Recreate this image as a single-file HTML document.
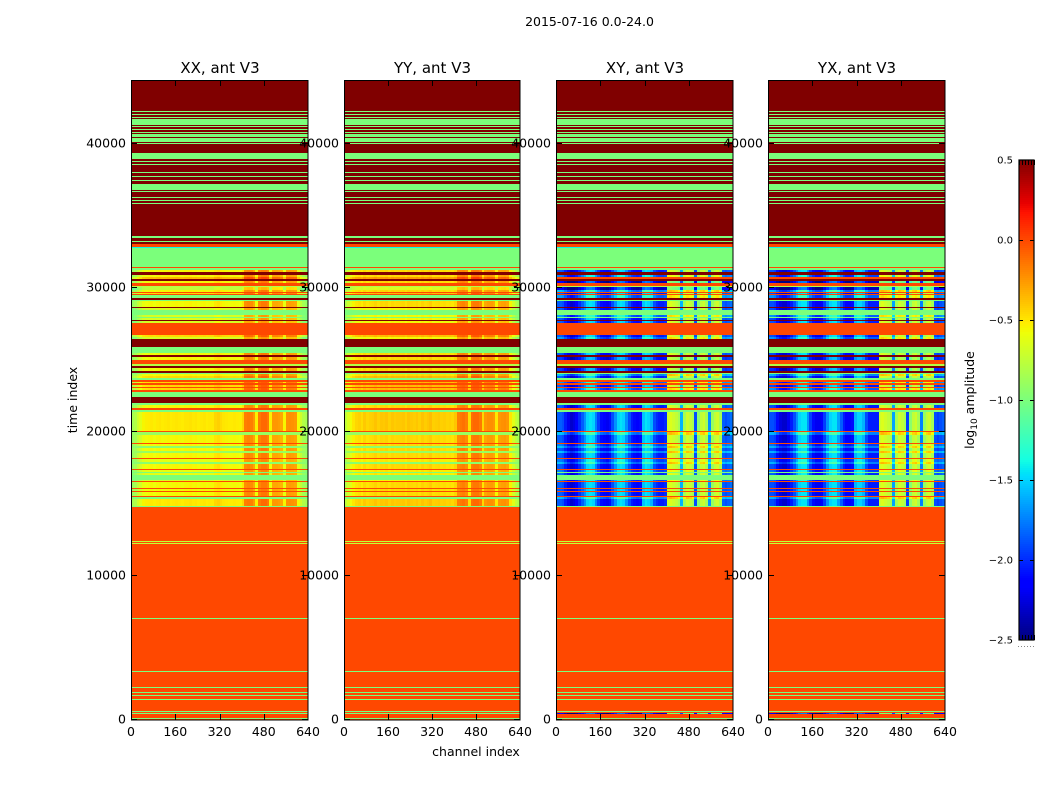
<!DOCTYPE html>
<html lang="en">
<head>
<meta charset="utf-8">
<title>2015-07-16 waterfall, ant V3</title>
<style>
  html, body { margin: 0; padding: 0; background: #fff; }
  #figure { display: block; width: 1050px; height: 800px; }
  text { font-family: "DejaVu Sans", "Liberation Sans", sans-serif; fill: #000; }
</style>
</head>
<body>
<svg id="figure" xmlns="http://www.w3.org/2000/svg" width="1050" height="800" viewBox="0 0 1050 800">
  <rect x="0" y="0" width="1050" height="800" fill="#ffffff"/>
  <text x="589.5" y="26" font-size="12.5" text-anchor="middle">2015-07-16 0.0-24.0</text>
  <g id="panels"></g>
  <text x="476" y="756" font-size="12.5" text-anchor="middle">channel index</text>
  <text x="0" y="0" font-size="12.5" text-anchor="middle" transform="translate(77 400) rotate(-90)">time index</text>
  <g id="colorbar"></g>
  <text x="0" y="0" font-size="12.5" text-anchor="middle" transform="translate(974 400) rotate(-90)">log<tspan font-size="9" dy="3">10</tspan><tspan dy="-3"> amplitude</tspan></text>
</svg>
<script>
// ---- chart data ----
const panelTitles = ["XX, ant V3", "YY, ant V3", "XY, ant V3", "YX, ant V3"];
const xTicks = [0, 160, 320, 480, 640];
const yTicks = [0, 10000, 20000, 30000, 40000];
const colorbarTicks = [0.5, 0, -0.5, -1, -1.5, -2, -2.5];

// Upper time index of each horizontal band (a band ends where the next one starts).
const bandTop = [
  44375,42220,42150,42010,41940,41810,41740,41670,41250,41180,
  41110,40970,40900,40760,40690,40630,40420,40350,40070,40000,
  39930,39310,38890,38750,38680,38540,38470,37990,37920,37710,
  37640,37430,37360,37150,36740,36670,36600,36250,36180,36040,
  35970,35830,35760,33540,33400,33190,33130,32990,32780,32710,
  31390,31320,31180,31040,30830,30690,30560,30420,30280,30070,
  30000,29790,29650,29580,29510,29440,29240,29100,29030,28610,
  28540,28400,28060,27920,27850,27710,27640,27500,26670,26530,
  26390,25830,25420,25280,25140,24930,24650,24510,24380,24170,
  24030,23960,23820,23680,23540,23400,23330,23190,23060,22990,
  22850,22710,22360,21940,21810,21600,21460,21320,20000,19930,
  19720,19170,19100,18960,18820,18610,18470,18130,18060,17850,
  17710,17360,17290,17150,17080,16940,16600,16530,16460,16040,
  15970,15830,15760,15490,15420,15280,14790,14720,12360,12290,
  12220,12150,7010,6940,3330,3260,2220,2150,1880,1810,
  1670,1600,1390,1320,560,490,420,350,70,0
];
// log10 amplitude level of each band in the parallel-hand (XX, YY) products.
const bandAuto = [
  .5,-1,.5,-1,.5,-1,.5,-1,.5,-1,
  .5,-1,.5,-1,.5,-1,.5,-1,.5,-1,
  .5,-1,.5,-1,.5,-1,.5,-1,.5,-1,
  .5,-1,.5,-1,.5,-1,.5,-1,.5,-1,
  .5,-1,.5,-1,.5,-1,.5,0,-1.4,-1,
  0,-1,-.6,.5,-.6,-.4,.5,-.6,0,-.8,
  -.8,-.6,0,-.5,0,-1,.5,-1,-.6,.5,
  -.7,-1,-.7,-1,-.7,.5,-.7,0,-.5,-.7,
  .5,-1,-.6,.5,-.6,0,-.8,.5,-.6,.5,
  -1,-.6,-.5,-1,0,-.5,0,-.5,0,-.5,
  0,-1,.5,-1,-.6,0,-1,-.55,0,-.9,
  -.6,0,-.6,-.95,-.6,-.9,-.6,0,-.65,-.95,
  -.6,0,-.65,-1,-.65,-1,-.7,0,-.6,0,
  -.6,0,-.6,0,-1,-.55,-1,0,-.75,0,
  -.75,0,-1,0,-1,0,-1,0,-1,0,
  -1,0,-1,0,-1,0,-1,0,-1,0
];
// Level of each band in the cross-hand (XY, YX) products.
const bandCross = [
  .5,-1,.5,-1,.5,-1,.5,-1,.5,-1,
  .5,-1,.5,-1,.5,-1,.5,-1,.5,-1,
  .5,-1,.5,-1,.5,-1,.5,-1,.5,-1,
  .5,-1,.5,-1,.5,-1,.5,-1,.5,-1,
  .5,-1,.5,-1,.5,-1,.5,0,-1.4,-1,
  0,-1,0,.5,.1,0,.5,-.3,0,-.8,
  -.3,.3,0,0,0,.2,.5,-1,0,.5,
  0,-1,.2,-1,0,.5,0,0,0,.2,
  .5,-1,0,.5,-.1,0,-.8,.5,-.1,.5,
  -1,.3,0,-1,0,.2,0,0,0,.2,
  0,-1,.5,-1,0,0,-1,0,0,.3,
  0,0,.1,.3,0,.3,0,0,.1,.3,
  0,0,.1,-1,.05,-1,.1,0,0,0,
  0,0,0,0,.3,0,-1,0,-.75,0,
  -.75,0,-1,0,-1,0,-1,0,-1,0,
  -1,0,-1,0,-1,0,-.3,0,-1,0
];
// 0 = flat everywhere, 1 = channel structure in all products, 2 = only auto, 3 = only cross.
const bandKind = [
  0,0,0,0,0,0,0,0,0,0,
  0,0,0,0,0,0,0,0,0,0,
  0,0,0,0,0,0,0,0,0,0,
  0,0,0,0,0,0,0,0,0,0,
  0,0,0,0,0,0,0,0,0,0,
  0,0,1,0,1,2,0,1,0,0,
  1,1,0,1,0,3,0,0,1,0,
  1,0,1,0,1,0,1,0,1,1,
  0,0,1,0,1,0,0,0,1,0,
  0,1,1,0,0,1,0,1,0,1,
  0,0,0,0,1,0,0,1,0,3,
  1,0,1,3,1,3,1,0,1,3,
  1,0,1,0,1,0,1,0,1,0,
  1,0,1,0,3,1,0,0,0,0,
  0,0,0,0,0,0,0,0,0,0,
  0,0,0,0,0,0,3,0,0,0
];

// Channel structure, one value per 10 channels.
const xxProfile = [
  -.3,-.25,-.15,-.08,0,.02,.03,.04,.02,.04,
  .05,.03,.04,.05,.03,.04,.05,.04,.03,.05,
  .05,.06,.04,.05,.03,.04,.05,.03,.04,.04,
  .1,.12,.08,.05,.04,.03,.03,.04,.03,.02,
  .1,.38,.4,.38,.3,.02,.4,.45,.45,.4,
  .02,.3,.3,.28,.25,0,.32,.33,.32,.3,
  -.02,-.15,-.25,-.3
];
const yyProfile = [
  -.2,-.1,-.02,.05,.1,.12,.08,.14,.1,.12,
  .13,.16,.12,.15,.14,.16,.12,.15,.13,.14,
  .14,.15,.12,.16,.14,.13,.15,.12,.16,.13,
  .15,.18,.12,.13,.14,.12,.13,.11,.12,.1,
  .15,.38,.4,.42,.38,.08,.42,.45,.45,.4,
  .1,.3,.33,.33,.3,.05,.3,.32,.33,.3,
  .05,-.08,-.18,-.25
];
const xyProfile = [
  -1.85,-1.85,-1.9,-2.05,-2.2,-2.3,-2.25,-2.15,-2.0,-1.85,
  -1.7,-1.5,-1.45,-1.5,-1.75,-1.95,-2.1,-2.15,-2.2,-2.1,
  -1.9,-1.7,-1.5,-1.45,-1.5,-1.7,-1.9,-2.05,-2.1,-2.15,
  -2.1,-1.55,-1.45,-1.5,-1.6,-1.9,-2.0,-2.05,-2.05,-2.0,
  -.7,-.65,-.7,-.75,-.85,-1.6,-.85,-.7,-.75,-.85,
  -1.9,-.95,-.75,-.7,-.85,-1.7,-.9,-.75,-.7,-.85,
  -1.85,-1.9,-1.85,-1.8
];
const yxProfile = [
  -1.9,-1.9,-1.95,-2.1,-2.25,-2.3,-2.3,-2.2,-2.05,-1.9,
  -1.7,-1.5,-1.45,-1.45,-1.7,-1.95,-2.1,-2.2,-2.2,-2.15,
  -1.95,-1.7,-1.5,-1.45,-1.45,-1.65,-1.85,-2.05,-2.15,-2.15,
  -2.1,-1.6,-1.5,-1.5,-1.6,-1.9,-2.05,-2.05,-2.05,-2.05,
  -.7,-.65,-.7,-.75,-.85,-1.65,-.85,-.7,-.75,-.85,
  -1.95,-.95,-.75,-.7,-.85,-1.75,-.9,-.75,-.7,-.85,
  -1.9,-1.95,-1.9,-1.85
];

// ---- layout ----
const SVG_NS = "http://www.w3.org/2000/svg";
const panelLeft = [131, 344, 556, 768];
const panelRight = [308, 520, 733, 945];
const plotTop = 80, plotBottom = 720;
const channelMax = 640, channelsPerCell = 10;
const timeMin = -69, valueMin = -2.5, valueMax = 0.5;
const panelProfiles = [xxProfile, yyProfile, xyProfile, yxProfile];
const panelIsCross = [false, false, true, true];

function xScale(panel, channel) {
  return panelLeft[panel] + (panelRight[panel] - panelLeft[panel]) * channel / channelMax;
}
function yScale(time) {
  return 719 - time * 0.0144;
}
function cbarScale(value) {
  return 160 + (valueMax - value) / (valueMax - valueMin) * 480;
}
function lerpStops(f, xs, ys) {
  for (let i = 1; i < xs.length; i++) {
    if (f <= xs[i]) return ys[i - 1] + (ys[i] - ys[i - 1]) * (f - xs[i - 1]) / (xs[i] - xs[i - 1]);
  }
  return ys[ys.length - 1];
}
function jet(value) {
  const f = Math.min(1, Math.max(0, (value - valueMin) / (valueMax - valueMin)));
  const r = lerpStops(f, [0, .35, .66, .89, 1], [0, 0, 1, 1, .5]);
  const g = lerpStops(f, [0, .125, .375, .64, .91, 1], [0, 0, 1, 1, 0, 0]);
  const b = lerpStops(f, [0, .11, .34, .65, 1], [.5, 1, 1, 0, 0]);
  return "rgb(" + Math.round(r * 255) + "," + Math.round(g * 255) + "," + Math.round(b * 255) + ")";
}
function mk(tag, attrs, parent) {
  const el = document.createElementNS(SVG_NS, tag);
  for (const k in attrs) el.setAttribute(k, attrs[k]);
  parent.appendChild(el);
  return el;
}

// ---- panels ----
const panelsRoot = document.getElementById("panels");
panelTitles.forEach(function (title, p) {
  const group = mk("g", { "shape-rendering": "crispEdges" }, panelsRoot);
  
  
  const x0 = panelLeft[p], x1 = panelRight[p];
  const profile = panelProfiles[p];
  const cross = panelIsCross[p];

  bandTop.forEach(function (top, i) {
    const bottom = i + 1 < bandTop.length ? bandTop[i + 1] : timeMin;
    const yA = Math.round(yScale(top)), yB = Math.round(yScale(bottom));
    const level = cross ? bandCross[i] : bandAuto[i];
    const kind = bandKind[i];
    const textured = kind === 1 || (cross ? kind === 3 : kind === 2);
    if (!textured) {
      const band = mk("rect", { x: x0, y: yA, width: x1 - x0, height: yB - yA, fill: jet(level) }, group);
      
      
    } else {
      profile.forEach(function (offset, col) {
        const cx0 = Math.round(xScale(p, col * channelsPerCell));
        const cx1 = Math.round(xScale(p, (col + 1) * channelsPerCell));
        const cell = mk("rect", { x: cx0, y: yA, width: cx1 - cx0, height: yB - yA, fill: jet(level + offset) }, group);
        
        
      });
    }
  });

  xTicks.forEach(function (t) {
    const x = Math.round(xScale(p, t));
    if (t !== 0 && t !== channelMax) {
      const tickBottom = mk("rect", { x: x, y: plotBottom - 6, width: 1, height: 6, fill: "#000" }, group);
      
      
      const tickTop = mk("rect", { x: x, y: plotTop, width: 1, height: 6, fill: "#000" }, group);
      
      
    }
    const label = mk("text", { x: xScale(p, t), y: 736, "font-size": 12.5, "text-anchor": "middle" }, panelsRoot);
    
    
    label.textContent = String(t);
  });

  yTicks.forEach(function (t) {
    const y = Math.floor(yScale(t));
    const tickLeft = mk("rect", { x: x0, y: y, width: 6, height: 1, fill: "#000" }, group);
    
    
    const tickRight = mk("rect", { x: x1 - 6, y: y, width: 6, height: 1, fill: "#000" }, group);
    
    
    const label = mk("text", { x: x0 - 5, y: yScale(t) + 4.5, "font-size": 12.5, "text-anchor": "end" }, panelsRoot);
    
    
    label.textContent = String(t);
  });

  const frame = mk("rect", { x: x0 + 0.5, y: plotTop + 0.5, width: x1 - x0 - 0.5, height: plotBottom - plotTop - 0.5, fill: "none", stroke: "#000", "stroke-width": 1.3 }, group);
  
  

  const heading = mk("text", { x: (x0 + x1) / 2 + 0.5, y: 73, "font-size": 15, "text-anchor": "middle" }, panelsRoot);
  
  
  heading.textContent = title;
});

// ---- colorbar ----
const cbarRoot = document.getElementById("colorbar");
const cbarLeft = 1019, cbarRight = 1034, cbarSteps = 240;
for (let s = 0; s < cbarSteps; s++) {
  const hi = valueMax - (valueMax - valueMin) * s / cbarSteps;
  const lo = valueMax - (valueMax - valueMin) * (s + 1) / cbarSteps;
  const swatch = mk("rect", { x: cbarLeft, y: cbarScale(hi), width: cbarRight - cbarLeft, height: cbarScale(lo) - cbarScale(hi) + 0.5, fill: jet((hi + lo) / 2), "shape-rendering": "crispEdges" }, cbarRoot);
  
  
}
colorbarTicks.forEach(function (v) {
  const y = cbarScale(v);
  if (v !== valueMax && v !== valueMin) {
    const tl = mk("rect", { x: cbarLeft, y: y, width: 4, height: 1, fill: "#000" }, cbarRoot);
    
    
    const tr = mk("rect", { x: cbarRight - 4, y: y, width: 4, height: 1, fill: "#000" }, cbarRoot);
    
    
  }
  const label = mk("text", { x: 1013, y: y + 3.5, "font-size": 10, "text-anchor": "end", fill: "#222" }, cbarRoot);
  
  
  label.textContent = v.toFixed(1).replace("-", "\u2212");
});
for (let c = 0; c <= 5; c++) {
  const x = cbarLeft + (cbarRight - cbarLeft) * c / 5;
  const combTop = mk("rect", { x: x, y: 160, width: 1, height: 5, fill: "#000" }, cbarRoot);
  
  
  const combBottom = mk("rect", { x: x, y: 635, width: 1, height: 5, fill: "#000" }, cbarRoot);
  
  
  const dot = mk("rect", { x: x - 1, y: 646, width: 1, height: 1, fill: "#888" }, cbarRoot);
  
  
}
const cbarFrame = mk("rect", { x: cbarLeft, y: 160, width: cbarRight - cbarLeft, height: 480, fill: "none", stroke: "#000", "stroke-width": 1.2 }, cbarRoot);


</script>
</body>
</html>
